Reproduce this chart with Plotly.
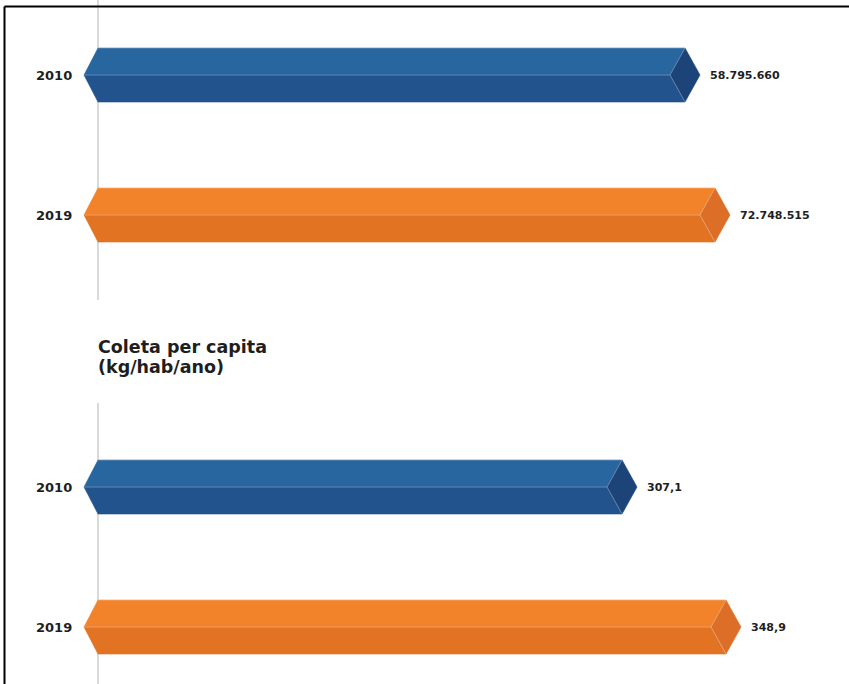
import plotly.graph_objects as go

# ---------------- data ----------------
years = ["2010", "2019"]
coleta_total = [58795660, 72748515]      # t/ano
coleta_per_capita = [307.1, 348.9]       # kg/hab/ano
subtitle_lines = ["Coleta per capita", "(kg/hab/ano)"]

# ---------------- style / layout ----------------
W, H = 849, 684
FONT = "DejaVu Sans"
TXT = "#1e1e1e"
BAR_START_PX = 98
LEFT_POINT_PX = 14
CAP_PX = 15
HALF_H_PX = 27

colors = {
    "2010": dict(top="#2866a0", bot="#22538d", cap="#1d4478"),
    "2019": dict(top="#f3832b", bot="#e17323", cap="#dc6e27"),
}


def fmt_total(v):
    return f"{v:,.0f}".replace(",", ".")


def fmt_pc(v):
    return f"{v:.1f}".replace(".", ",")


panels = [
    dict(values=coleta_total, fmt=fmt_total, xr=[-266.77e6, 128.09e6],
         yr=[1.607, -0.536], ydom=[1 - 300 / H, 1.0], xa="x", ya="y"),
    dict(values=coleta_per_capita, fmt=fmt_pc, xr=[51.07, 392.30],
         yr=[1.407, -0.600], ydom=[0.0, 1 - 403 / H], xa="x2", ya="y2"),
]

fig = go.Figure()
annotations = []
shapes = []

for p in panels:
    x0r, x1r = p["xr"]
    ux = (x1r - x0r) / W                      # data units per pixel (x)
    ydom_px = (p["ydom"][1] - p["ydom"][0]) * H
    uy = abs(p["yr"][0] - p["yr"][1]) / ydom_px   # data units per pixel (y)
    base = x0r + BAR_START_PX * ux
    h = HALF_H_PX * uy
    for i, (yr_lbl, v) in enumerate(zip(years, p["values"])):
        c = i
        col = colors[yr_lbl]
        lp = base - LEFT_POINT_PX * ux
        be = v - CAP_PX * ux
        iv = v - 2 * CAP_PX * ux
        polys = [
            ([lp, base, be, iv, lp], [c, c - h, c - h, c, c], col["top"]),
            ([lp, iv, be, base, lp], [c, c, c + h, c + h, c], col["bot"]),
            ([be, v, be, iv, be], [c - h, c, c + h, c, c - h], col["cap"]),
        ]
        for xs, ys, fc in polys:
            fig.add_trace(go.Scatter(
                x=xs, y=ys, xaxis=p["xa"], yaxis=p["ya"], mode="lines",
                fill="toself", fillcolor=fc, line=dict(width=0.6, color=fc),
                hoverinfo="skip", showlegend=False))
        # light edges
        fig.add_trace(go.Scatter(
            x=[lp, iv, None, be, iv, be], y=[c, c, None, c - h, c, c + h],
            xaxis=p["xa"], yaxis=p["ya"], mode="lines",
            line=dict(width=1, color="rgba(255,255,255,0.30)"),
            hoverinfo="skip", showlegend=False))
        fig.add_trace(go.Scatter(
            x=[base, be], y=[c - h, c - h],
            xaxis=p["xa"], yaxis=p["ya"], mode="lines",
            line=dict(width=1, color="rgba(255,255,255,0.25)"),
            hoverinfo="skip", showlegend=False))
        # year label
        annotations.append(dict(
            xref="paper", yref=p["ya"], x=74 / W, y=c, text=yr_lbl,
            xanchor="right", yanchor="middle", showarrow=False,
            font=dict(family=FONT, size=13, color=TXT, weight="bold")))
        # value label
        annotations.append(dict(
            xref=p["xa"], yref=p["ya"], x=v, y=c, text=p["fmt"](v),
            xanchor="left", yanchor="middle", showarrow=False, xshift=8,
            font=dict(family=FONT, size=11, color=TXT, weight="bold")))
    # vertical gray axis line
    shapes.append(dict(
        type="line", xref=p["xa"], yref=f"{p['ya']} domain",
        x0=base, x1=base, y0=0, y1=1, layer="below",
        line=dict(color="#d9d9d9", width=2)))

for k, line in enumerate(subtitle_lines):
    annotations.append(dict(
        xref="paper", yref="paper", x=96 / W, y=1 - (347 + 19.5 * k) / H,
        text=line, xanchor="left", yanchor="middle", align="left",
        showarrow=False,
        font=dict(family=FONT, size=17.5, color=TXT, weight="bold")))

# frame (top and left border)
shapes.append(dict(type="line", xref="paper", yref="paper",
                   x0=4.5 / W, x1=1, y0=1 - 6.5 / H, y1=1 - 6.5 / H,
                   line=dict(color="#000000", width=2)))
shapes.append(dict(type="line", xref="paper", yref="paper",
                   x0=4.5 / W, x1=4.5 / W, y0=0, y1=1 - 6.5 / H,
                   line=dict(color="#000000", width=2)))

ax_common = dict(showgrid=False, zeroline=False, showticklabels=False,
                 showline=False, ticks="", fixedrange=True)

fig.update_layout(
    width=W, height=H, autosize=False,
    margin=dict(l=0, r=0, t=0, b=0),
    paper_bgcolor="white", plot_bgcolor="rgba(0,0,0,0)",
    showlegend=False,
    xaxis=dict(domain=[0, 1], range=panels[0]["xr"], anchor="y", **ax_common),
    yaxis=dict(domain=panels[0]["ydom"], range=panels[0]["yr"], anchor="x", **ax_common),
    xaxis2=dict(domain=[0, 1], range=panels[1]["xr"], anchor="y2", **ax_common),
    yaxis2=dict(domain=panels[1]["ydom"], range=panels[1]["yr"], anchor="x2", **ax_common),
    annotations=annotations,
    shapes=shapes,
)

fig.write_html("out.html")
